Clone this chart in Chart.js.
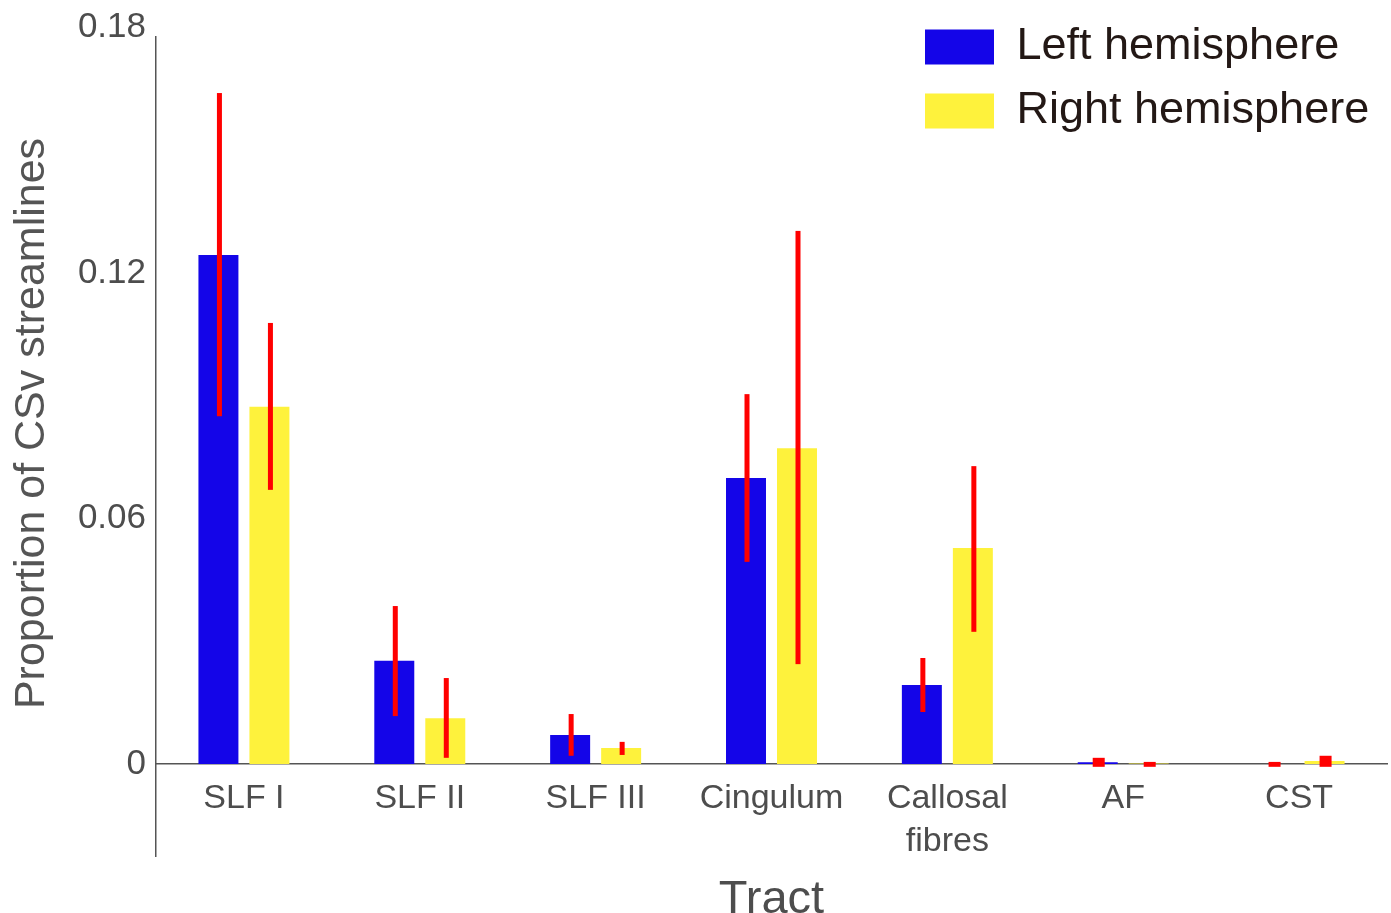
<!DOCTYPE html>
<html><head><meta charset="utf-8">
<script src="https://cdn.jsdelivr.net/npm/chart.js@4.4.1/dist/chart.umd.min.js"></script>
<style>html,body{margin:0;padding:0;background:#fff;}canvas{display:block;}</style>
</head><body>
<canvas id="c" width="1391" height="913" style="width:1391px;height:913px"></canvas>
<script>
const categories = ['SLF I', 'SLF II', 'SLF III', 'Cingulum', ['Callosal', 'fibres'], 'AF', 'CST'];
const seriesNames = ['Left hemisphere', 'Right hemisphere'];
const leftValues = [0.1244, 0.0252, 0.0071, 0.0699, 0.0193, 0.0004, 0.0];
const rightValues = [0.0873, 0.0112, 0.0039, 0.0772, 0.0528, 0.0001, 0.0007];
const leftErrLow = [0.085, 0.0117, 0.0020, 0.0494, 0.0127, -0.0007, -0.0007];
const leftErrHigh = [0.164, 0.0386, 0.0122, 0.0904, 0.0259, 0.0015, 0.0005];
const rightErrLow = [0.067, 0.0015, 0.0022, 0.0244, 0.0323, -0.0007, -0.0007];
const rightErrHigh = [0.1078, 0.0210, 0.0054, 0.1303, 0.0728, 0.0005, 0.0020];
const yTickValues = [0, 0.06, 0.12, 0.18];

const FAMILY = '"Liberation Sans", Arial, Helvetica, sans-serif';

const errorBars = {
  id: 'errorBars',
  afterDatasetsDraw(chart) {
    const ys = chart.scales.y;
    const ctx = chart.ctx;
    const errs = [[leftErrLow, leftErrHigh], [rightErrLow, rightErrHigh]];
    ctx.save();
    ctx.fillStyle = '#ff0000';
    errs.forEach(([lo, hi], di) => {
      const meta = chart.getDatasetMeta(di);
      meta.data.forEach((bar, i) => {
        const yTop = ys.getPixelForValue(hi[i]);
        const yBot = ys.getPixelForValue(lo[i]);
        const h = yBot - yTop;
        const w = h < 12 ? 12 : 5;
        ctx.fillRect(bar.x - w / 2 + 1, yTop, w, h);
      });
    });
    ctx.restore();
  }
};

const layoutTweaks = {
  id: 'layoutTweaks',
  afterInit(chart) {
    const lg = chart.legend;
    const f = lg.fit;
    lg.fit = function () { f.call(this); this.width = 0; };
  },
  afterLayout(chart) {
    const lg = chart.legend;
    lg.left = 906; lg.top = 5.5;
    lg.width = 480; lg.height = 220;
    lg.right = lg.left + lg.width; lg.bottom = lg.top + lg.height;
    const ys = chart.scales.y;
    if (!ys._titlePatched) {
      const dt = ys.drawTitle;
      ys.drawTitle = function () {
        const t = this.top, b = this.bottom;
        this.top = t - 23; this.bottom = b - 23;
        dt.call(this);
        this.top = t; this.bottom = b;
      };
      ys._titlePatched = true;
    }
  }
};

new Chart(document.getElementById('c'), {
  type: 'bar',
  data: {
    labels: categories,
    datasets: [
      { label: seriesNames[0], data: leftValues, backgroundColor: '#1405e8', borderWidth: 0 },
      { label: seriesNames[1], data: rightValues, backgroundColor: '#fef23c', borderWidth: 0 }
    ]
  },
  options: {
    responsive: false,
    animation: false,
    categoryPercentage: 0.58,
    barPercentage: 0.784,
    layout: { padding: { left: 0, right: 4, top: 37, bottom: 57 } },
    plugins: {
      tooltip: { enabled: false },
      legend: {
        position: 'right',
        align: 'start',
        labels: {
          boxWidth: 69, boxHeight: 35, padding: 19,
          color: '#231815',
          font: { size: 45, family: FAMILY }
        }
      }
    },
    scales: {
      x: {
        position: { y: 0 },
        grid: { display: false, drawTicks: false },
        border: { display: true, color: '#555555', width: 1.5 },
        ticks: { color: '#4d4d4d', font: { size: 34, family: FAMILY, lineHeight: 1.24 }, padding: 14, maxRotation: 0, autoSkip: false },
        title: { display: true, text: 'Tract', color: '#4d4d4d', font: { size: 47, family: FAMILY, lineHeight: 1 }, padding: { top: 0, bottom: 0 } }
      },
      y: {
        min: -0.0225,
        max: 0.1777,
        afterBuildTicks(s) { s.ticks = yTickValues.map(v => ({ value: v })); },
        afterFit(s) { s.width = 156; },
        grid: { display: false, drawTicks: false },
        border: { display: true, color: '#555555', width: 1.5 },
        ticks: { color: '#4d4d4d', font: { size: 35, family: FAMILY }, padding: 10, callback: v => (v === 0 ? '0' : String(v)) },
        title: { display: true, text: 'Proportion of CSv streamlines', color: '#555555', font: { size: 43, family: FAMILY }, padding: { top: 6, bottom: 0 } }
      }
    }
  },
  plugins: [errorBars, layoutTweaks]
});
</script>
</body></html>
